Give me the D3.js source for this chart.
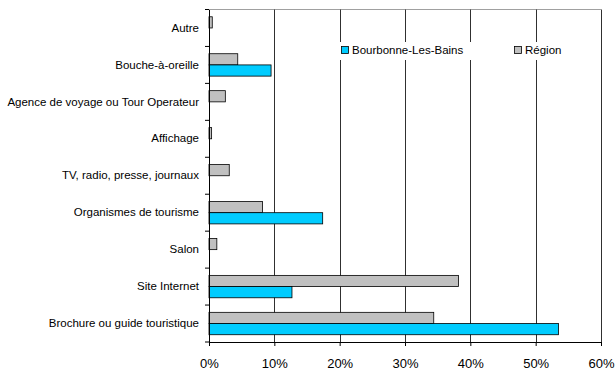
<!DOCTYPE html>
<html>
<head>
<meta charset="utf-8">
<script src="https://cdn.jsdelivr.net/npm/d3@7"></script>
<style>
  html, body { margin: 0; padding: 0; background: #fff; }
  svg { display: block; font-family: "Liberation Sans", Arial, sans-serif; }
</style>
</head>
<body>
<svg id="chart" width="615" height="372"></svg>
<script>
// Sources d'information, du haut vers le bas
const categories = [
  "Autre",
  "Bouche-à-oreille",
  "Agence de voyage ou Tour Operateur",
  "Affichage",
  "TV, radio, presse, journaux",
  "Organismes de tourisme",
  "Salon",
  "Site Internet",
  "Brochure ou guide touristique"
];
const seriesNames = ["Région", "Bourbonne-Les-Bains"];
const regionValues     = [0.5, 4.4, 2.5, 0.4, 3.1, 8.2, 1.2, 38.2, 34.4];
const bourbonneValues  = [0,   9.5, 0,   0,   0,   17.4, 0,  12.7, 53.5];
const xTicks = [0, 10, 20, 30, 40, 50, 60];
const colors = { "Région": "#c0c0c0", "Bourbonne-Les-Bains": "#00ccff" };

const svg = d3.select("#chart");
const m = { left: 209, right: 601, top: 9.5, bottom: 342 };

const x = d3.scaleLinear().domain([0, 60]).range([m.left, m.right]);
const y = d3.scaleBand().domain(categories).range([m.top, m.bottom]).padding(0);
// deux barres par catégorie, centrées dans la bande
const inner = d3.scaleBand().domain(seriesNames)
  .range([0, y.bandwidth()]).paddingOuter(0.65).paddingInner(0);

// bordure haute du tracé
svg.append("line")
  .attr("x1", m.left).attr("x2", m.right)
  .attr("y1", m.top).attr("y2", m.top)
  .attr("stroke", "#a0a0a0").attr("stroke-width", 1);

// quadrillage vertical
svg.append("g").selectAll("line")
  .data(xTicks.slice(1))
  .join("line")
  .attr("x1", d => Math.round(x(d)) + 0.5).attr("x2", d => Math.round(x(d)) + 0.5)
  .attr("y1", m.top).attr("y2", m.bottom)
  .attr("stroke", "#303030").attr("stroke-width", 1);

// barres
const rows = categories.map((c, i) => ({
  cat: c,
  values: [
    { s: "Région", v: regionValues[i] },
    { s: "Bourbonne-Les-Bains", v: bourbonneValues[i] }
  ]
}));

svg.append("g").selectAll("g")
  .data(rows)
  .join("g")
  .attr("transform", d => `translate(0,${y(d.cat)})`)
  .selectAll("rect")
  .data(d => d.values.filter(e => e.v > 0))
  .join("rect")
  .attr("x", x(0))
  .attr("y", d => inner(d.s))
  .attr("width", d => x(d.v) - x(0))
  .attr("height", inner.bandwidth())
  .attr("fill", d => colors[d.s])
  .attr("stroke", "#000")
  .attr("stroke-width", 0.8);

// légende
const legend = svg.append("g");
legend.append("rect")
  .attr("x", 338).attr("y", 42).attr("width", 244).attr("height", 18)
  .attr("fill", "#fff");
const legendItems = [
  { s: "Bourbonne-Les-Bains", x: 341 },
  { s: "Région", x: 514 }
];
legendItems.forEach(it => {
  legend.append("rect")
    .attr("x", it.x + 0.5).attr("y", 46.5).attr("width", 7).attr("height", 7)
    .attr("fill", colors[it.s]).attr("stroke", "#000").attr("stroke-width", 0.8);
  legend.append("text")
    .attr("x", it.x + 11).attr("y", 54)
    .attr("font-size", "11.5px").attr("fill", "#000")
    .text(it.s);
});

// axe des catégories
const yAxis = d3.axisLeft(y).tickSize(0).tickPadding(10);
const gy = svg.append("g").attr("transform", `translate(${m.left},0)`).call(yAxis);
gy.select(".domain").attr("stroke", "#000");
gy.selectAll("text").attr("font-size", "11.5px").attr("fill", "#000")
  .attr("font-family", "'Liberation Sans', Arial, sans-serif");
// petites graduations entre les catégories
svg.append("g").selectAll("line")
  .data(d3.range(categories.length + 1))
  .join("line")
  .attr("x1", m.left - 4).attr("x2", m.left)
  .attr("y1", i => m.top + i * y.step()).attr("y2", i => m.top + i * y.step())
  .attr("stroke", "#000");

// axe des pourcentages
const xAxis = d3.axisBottom(x).tickValues(xTicks).tickFormat(d => d + "%")
  .tickSizeInner(4).tickSizeOuter(0).tickPadding(13);
const gx = svg.append("g").attr("transform", `translate(0,${m.bottom})`).call(xAxis);
gx.select(".domain").attr("stroke", "#000");
gx.selectAll("line").attr("stroke", "#000");
gx.selectAll("text").attr("font-size", "13px").attr("fill", "#000")
  .attr("font-family", "'Liberation Sans', Arial, sans-serif");
</script>
</body>
</html>
